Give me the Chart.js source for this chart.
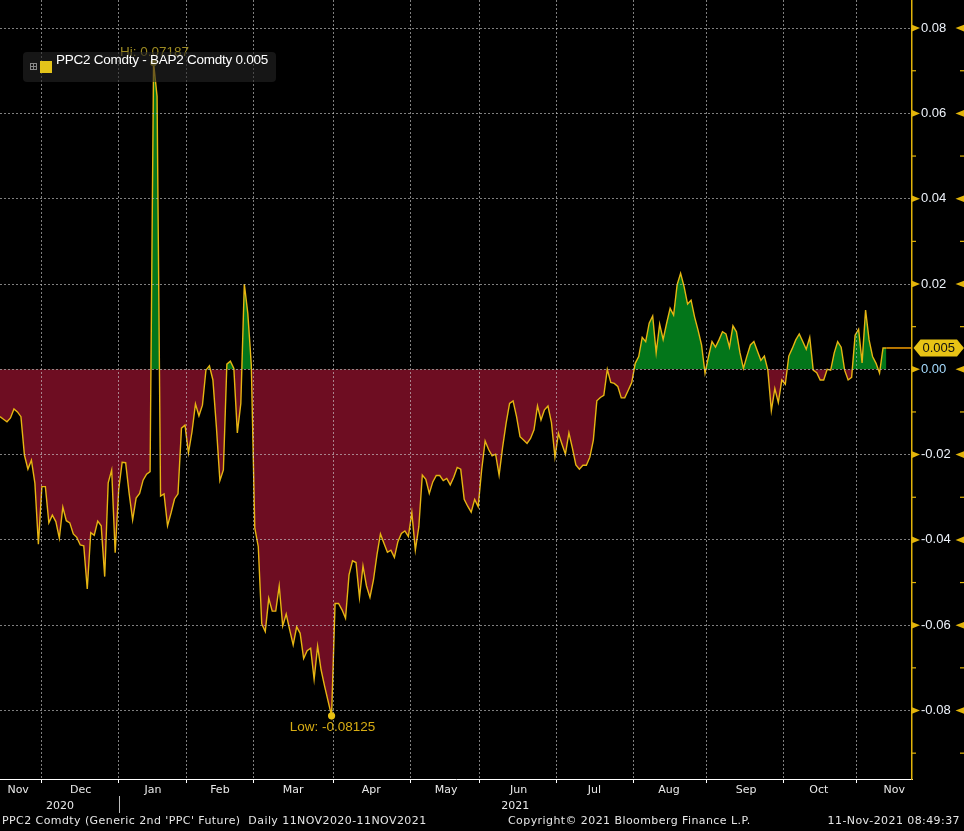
<!DOCTYPE html>
<html>
<head>
<meta charset="utf-8">
<script src="https://cdn.jsdelivr.net/npm/chart.js@4.4.1/dist/chart.umd.min.js"></script>
<style>
  html, body { margin:0; padding:0; background:#000; overflow:hidden; }
  #wrap { position:relative; width:964px; height:831px; background:#000; }
  #c { position:absolute; left:0; top:0; }
  #legend { position:absolute; left:23px; top:52px; width:253px; height:30px;
            background:rgba(36,36,36,0.6); border-radius:4px; }
  #legend .ico { position:absolute; left:7px; top:11px; width:5px; height:5px; border:1px solid #8a8a8a; }
  #legend .ico i { position:absolute; background:#8a8a8a; }
  #legend .sw { position:absolute; left:17px; top:9px; width:12px; height:12px; background:#e4c41a; }
  #legend .tx { position:absolute; left:33px; top:0; line-height:31px; font:13.5px "Liberation Sans", Arial, sans-serif; letter-spacing:-0.25px; color:#fff; white-space:nowrap; }
  .foot { position:absolute; top:814px; height:17px; line-height:17px; font:11px "DejaVu Sans", sans-serif; letter-spacing:0.42px; color:#e6e6e6; white-space:nowrap; }
</style>
</head>
<body>
<div id="wrap">
  <canvas id="c" width="964" height="831"></canvas>
  <div id="legend">
    <div class="ico"><i style="left:2px;top:0;width:1px;height:5px"></i><i style="left:0;top:2px;width:5px;height:1px"></i></div>
    <div class="sw"></div>
    <div class="tx" id="legendText"></div>
  </div>
  <div class="foot" style="left:2px">PPC2 Comdty (Generic 2nd 'PPC' Future)&nbsp; Daily 11NOV2020-11NOV2021</div>
  <div class="foot" style="left:508px">Copyright© 2021 Bloomberg Finance L.P.</div>
  <div class="foot" style="right:4px">11-Nov-2021 08:49:37</div>
</div>
<script>
// ---------------- DATA ----------------
const seriesName = 'PPC2 Comdty - BAP2 Comdty';

// trading-day index (0 = 11 Nov 2020)
const dayIndex = [
  0,1,2,3,4,5,6,7,8,9,10,11,12,13,14,15,16,17,18,19,20,21,22,23,24,25,26,27,28,29,
  30,31,32,33,34,35,36,37,38,39,40,41,42,43,44,45,46,47,48,49,50,51,52,53,54,55,56,57,58,59,
  60,61,62,63,64,65,66,67,68,69,70,71,72,73,74,75,76,77,78,79,80,81,82,83,84,85,86,87,88,89,
  90,91,92,93,95,96,97,98,99,100,101,102,103,104,105,106,107,108,109,110,111,112,113,114,115,116,117,118,119,
  120,121,122,123,124,125,126,127,128,129,130,131,132,133,134,135,136,137,138,139,140,141,142,143,144,145,146,147,148,149,
  150,151,152,153,154,155,156,157,158,159,160,161,162,163,164,165,166,167,168,169,170,171,172,173,174,175,176,177,178,179,
  180,181,182,183,184,185,186,187,188,189,190,191,192,193,194,195,196,197,198,199,200,201,202,203,204,205,206,207,208,209,
  210,211,212,213,214,215,216,217,218,219,220,221,222,223,224,225,226,227,228,229,230,231,232,233,234,235,236,237,238,239,
  240,241,242,243,244,245,246,247,248,249,250,251,252,253,254
];

// spread values PPC2 - BAP2
const spread = [
  -0.0111,-0.0117,-0.0123,-0.0114,-0.0093,-0.0100,-0.0111,-0.0201,-0.0234,-0.0213,
  -0.0267,-0.0410,-0.0275,-0.0275,-0.0360,-0.0342,-0.0357,-0.0396,-0.0323,-0.0355,
  -0.0360,-0.0386,-0.0394,-0.0412,-0.0414,-0.0515,-0.0383,-0.0389,-0.0356,-0.0367,
  -0.0486,-0.0266,-0.0236,-0.0430,-0.0283,-0.0218,-0.0219,-0.0291,-0.0353,-0.0302,
  -0.0291,-0.0260,-0.0246,-0.0240,0.07187,0.0640,-0.0297,-0.0292,-0.0367,-0.0337,
  -0.0304,-0.0292,-0.0138,-0.0131,-0.0196,-0.0147,-0.0081,-0.0109,-0.0084,-0.0002,
  0.0008,-0.0025,-0.0135,-0.0261,-0.0236,0.0012,0.0019,0.0002,-0.0149,-0.0080,
  0.0200,0.0131,0.0010,-0.0372,-0.0416,-0.0597,-0.0615,-0.0537,-0.0567,-0.0567,
  -0.0508,-0.0602,-0.0574,-0.0611,-0.0646,-0.0604,-0.0619,-0.0678,-0.0660,-0.0654,
  -0.0727,-0.0649,-0.0705,-0.0743,-0.08125,-0.0549,-0.0549,-0.0564,-0.0584,
  -0.0482,-0.0449,-0.0453,-0.0535,-0.0461,-0.0508,-0.0535,-0.0494,-0.0435,-0.0386,
  -0.0408,-0.0429,-0.0424,-0.0441,-0.0404,-0.0385,-0.0379,-0.0392,-0.0336,-0.0424,
  -0.0369,-0.0248,-0.0258,-0.0291,-0.0264,-0.0249,-0.0249,-0.0261,-0.0256,-0.0271,
  -0.0253,-0.0230,-0.0234,-0.0305,-0.0321,-0.0335,-0.0305,-0.0322,-0.0236,-0.0168,
  -0.0188,-0.0203,-0.0199,-0.0248,-0.0183,-0.0127,-0.0080,-0.0074,-0.0111,-0.0158,
  -0.0166,-0.0174,-0.0162,-0.0142,-0.0086,-0.0119,-0.0095,-0.0086,-0.0125,-0.0206,
  -0.0150,-0.0175,-0.0199,-0.0149,-0.0185,-0.0224,-0.0234,-0.0225,-0.0225,-0.0206,
  -0.0166,-0.0074,-0.0066,-0.0061,0.0000,-0.0031,-0.0033,-0.0040,-0.0067,-0.0067,
  -0.0049,-0.0031,0.0014,0.0030,0.0075,0.0065,0.0108,0.0125,0.0039,0.0106,
  0.0070,0.0108,0.0143,0.0127,0.0198,0.0225,0.0194,0.0153,0.0162,0.0123,
  0.0092,0.0057,-0.0009,0.0030,0.0065,0.0052,0.0069,0.0088,0.0083,0.0052,
  0.0102,0.0088,0.0039,0.0002,0.0031,0.0057,0.0065,0.0043,0.0021,0.0031,
  -0.0002,-0.0097,-0.0045,-0.0078,-0.0025,-0.0035,0.0031,0.0049,0.0069,0.0083,
  0.0065,0.0047,0.0075,-0.0002,-0.0008,-0.0025,-0.0025,0.0000,-0.0002,0.0038,
  0.0065,0.0052,-0.0002,-0.0025,-0.0019,0.0080,0.0094,0.0015,0.0139,0.0069,
  0.0030,0.0014,-0.0009,0.0050,0.0050
];

// x axis: month boundaries (grid), month label centres, year labels
const monthBoundaries = [12, 34, 53.5, 72.5, 95.5, 117.5, 137.5, 159.5, 181.5, 202.5, 224.5, 245.5];
const monthLabels  = ['Nov','Dec','Jan','Feb','Mar','Apr','May','Jun','Jul','Aug','Sep','Oct','Nov'];
const monthCenters = [5.2, 23.1, 43.8, 63.0, 84.0, 106.4, 127.8, 148.6, 170.3, 191.7, 213.8, 234.6, 256.2];
const yearLabels   = ['2020', '2021'];
const yearCenters  = [17.2, 147.6];
const yearSeparator = 34;

// y axis ticks (major labelled, minor unlabelled)
const yMajorTicks = [-0.08, -0.06, -0.04, -0.02, 0.00, 0.02, 0.04, 0.06, 0.08];
const yMinorTicks = [-0.09, -0.07, -0.05, -0.03, -0.01, 0.01, 0.03, 0.05, 0.07];
const yTickLabels = ['-0.08','-0.06','-0.04','-0.02','0.00','0.02','0.04','0.06','0.08'];

// ---------------- STYLE ----------------
const X_MAX = 261.3, Y_MIN = -0.09606, Y_MAX = 0.08659;
const LINE = '#e6b512', UP = 'rgb(3,118,26)', DOWN = 'rgb(110,13,34)';
const AXIS_Y = '#e2b40a', GRID = 'rgba(205,205,205,0.62)';
const isMajor = v => yMajorTicks.some(m => Math.abs(m - v) < 1e-6);

const lastVal = spread[spread.length - 1];
document.getElementById('legendText').textContent = seriesName + ' ' + lastVal.toFixed(3);

function tri(ctx, xBase, y, dx, h) {
  ctx.beginPath();
  ctx.moveTo(xBase, y - h);
  ctx.lineTo(xBase + dx, y);
  ctx.lineTo(xBase, y + h);
  ctx.closePath();
  ctx.fill();
}
const noPad = s => { s.paddingTop = 0; s.paddingBottom = 0; s.paddingLeft = 0; s.paddingRight = 0; };

const bbgPlugin = {
  id: 'bbg',
  afterDraw(chart) {
    const { ctx, chartArea: ca, scales } = chart;
    const xs = scales.x, ys = scales.y;
    ctx.save();
    // y-axis markers
    ctx.fillStyle = AXIS_Y;
    ys.ticks.forEach(t => {
      const py = ys.getPixelForValue(t.value);
      if (isMajor(t.value)) {
        tri(ctx, ca.right, py, 8, 3.3);
        tri(ctx, chart.width, py, -8.5, 3.3);
      } else {
        ctx.fillRect(ca.right, py - 0.6, 4, 1.2);
        ctx.fillRect(chart.width - 4, py - 0.6, 4, 1.2);
      }
    });

    // Hi / Low markers
    let hi = 0, lo = 0;
    spread.forEach((v, i) => { if (v > spread[hi]) hi = i; if (v < spread[lo]) lo = i; });
    ctx.font = '13.5px "Liberation Sans", Arial, sans-serif';
    ctx.textAlign = 'center';
    ctx.textBaseline = 'middle';
    const hx = xs.getPixelForValue(dayIndex[hi]), hy = ys.getPixelForValue(spread[hi]);
    ctx.fillStyle = '#9c8a22';
    ctx.beginPath(); ctx.arc(hx, hy, 3.4, 0, Math.PI * 2); ctx.fill();
    ctx.fillText('Hi: ' + spread[hi].toFixed(5), hx + 1, hy - 10);
    const lx = xs.getPixelForValue(dayIndex[lo]), ly = ys.getPixelForValue(spread[lo]);
    ctx.fillStyle = '#e8c012';
    ctx.beginPath(); ctx.arc(lx, ly, 3.6, 0, Math.PI * 2); ctx.fill();
    ctx.fillStyle = '#d8ad14';
    ctx.fillText('Low: ' + spread[lo].toFixed(5), lx + 1, ly + 11);

    // last value line + tag
    const lastX = xs.getPixelForValue(dayIndex[dayIndex.length - 1]);
    const lastY = ys.getPixelForValue(lastVal);
    ctx.strokeStyle = '#f39c00';
    ctx.lineWidth = 1.5;
    ctx.beginPath(); ctx.moveTo(lastX, lastY); ctx.lineTo(ca.right, lastY); ctx.stroke();
    const L = ca.right + 1.5, R = chart.width, h = 8.5;
    ctx.fillStyle = '#e8c315';
    ctx.beginPath();
    ctx.moveTo(L, lastY); ctx.lineTo(L + 7, lastY - h); ctx.lineTo(R - 7, lastY - h);
    ctx.lineTo(R, lastY); ctx.lineTo(R - 7, lastY + h); ctx.lineTo(L + 7, lastY + h);
    ctx.closePath(); ctx.fill();
    ctx.fillStyle = '#111';
    ctx.font = '13px "Liberation Sans", Arial, sans-serif';
    ctx.fillText(lastVal.toFixed(3), (L + R) / 2, lastY + 0.5);

    // year separator
    const sx = Math.round(xs.getPixelForValue(yearSeparator)) + 0.5;
    ctx.strokeStyle = '#bdbdbd';
    ctx.lineWidth = 1;
    ctx.beginPath(); ctx.moveTo(sx, 796); ctx.lineTo(sx, 813); ctx.stroke();
    ctx.restore();
  }
};

new Chart(document.getElementById('c'), {
  type: 'line',
  data: {
    datasets: [{
      label: seriesName,
      data: dayIndex.map((d, i) => ({ x: d, y: spread[i] })),
      borderColor: LINE,
      borderWidth: 1.4,
      pointRadius: 0,
      tension: 0,
      fill: { target: 'origin', above: UP, below: DOWN },
      xAxisID: 'x',
      yAxisID: 'y'
    }]
  },
  options: {
    responsive: false,
    animation: false,
    events: [],
    layout: { padding: { left: 0, right: 0, top: 0, bottom: 17 } },
    plugins: { legend: { display: false }, tooltip: { enabled: false } },
    scales: {
      x: {
        type: 'linear', position: 'bottom', weight: 0,
        min: 0, max: X_MAX,
        afterBuildTicks: s => { s.ticks = monthBoundaries.map(v => ({ value: v })); },
        afterFit: s => { s.height = 4; noPad(s); },
        ticks: { display: false },
        grid: { color: GRID, lineWidth: 1, z: 1, drawTicks: true, tickLength: 4,
                tickColor: '#ffffff', tickWidth: 1, tickBorderDash: [] },
        border: { display: true, color: '#ffffff', width: 1, dash: [2, 2], z: 2 }
      },
      xm: {
        type: 'linear', position: 'bottom', weight: 1,
        min: 0, max: X_MAX,
        afterBuildTicks: s => { s.ticks = monthCenters.map(v => ({ value: v })); },
        afterFit: s => { s.height = 15; noPad(s); },
        ticks: { autoSkip: false, maxRotation: 0, minRotation: 0, padding: 1,
                 color: '#e8e8e8', font: { family: 'DejaVu Sans', size: 11 },
                 callback: (v, i) => monthLabels[i] },
        grid: { display: false, drawTicks: false },
        border: { display: false }
      },
      xy: {
        type: 'linear', position: 'bottom', weight: 2,
        min: 0, max: X_MAX,
        afterBuildTicks: s => { s.ticks = yearCenters.map(v => ({ value: v })); },
        afterFit: s => { s.height = 16; noPad(s); },
        ticks: { autoSkip: false, maxRotation: 0, minRotation: 0, padding: 2,
                 color: '#e8e8e8', font: { family: 'DejaVu Sans', size: 11 },
                 callback: (v, i) => yearLabels[i] },
        grid: { display: false, drawTicks: false },
        border: { display: false }
      },
      y: {
        type: 'linear', position: 'right',
        min: Y_MIN, max: Y_MAX,
        afterBuildTicks: s => {
          s.ticks = yMajorTicks.concat(yMinorTicks).sort((a, b) => a - b).map(v => ({ value: v }));
        },
        afterFit: s => { s.width = 52; noPad(s); },
        ticks: {
          padding: 9,
          font: { family: 'Liberation Sans', size: 13 },
          color: c => (c.tick && Math.abs(c.tick.value) < 1e-6) ? '#a6dcff' : '#eef3fb',
          callback: v => {
            const k = yMajorTicks.findIndex(m => Math.abs(m - v) < 1e-6);
            return k >= 0 ? yTickLabels[k] : '';
          }
        },
        grid: {
          z: 1, drawTicks: false, lineWidth: 1,
          color: c => (c.tick && isMajor(c.tick.value)) ? GRID : 'rgba(0,0,0,0)'
        },
        border: { display: true, color: AXIS_Y, width: 1.5, dash: [2, 2], z: 2 }
      }
    }
  },
  plugins: [bbgPlugin]
});
</script>
</body>
</html>
